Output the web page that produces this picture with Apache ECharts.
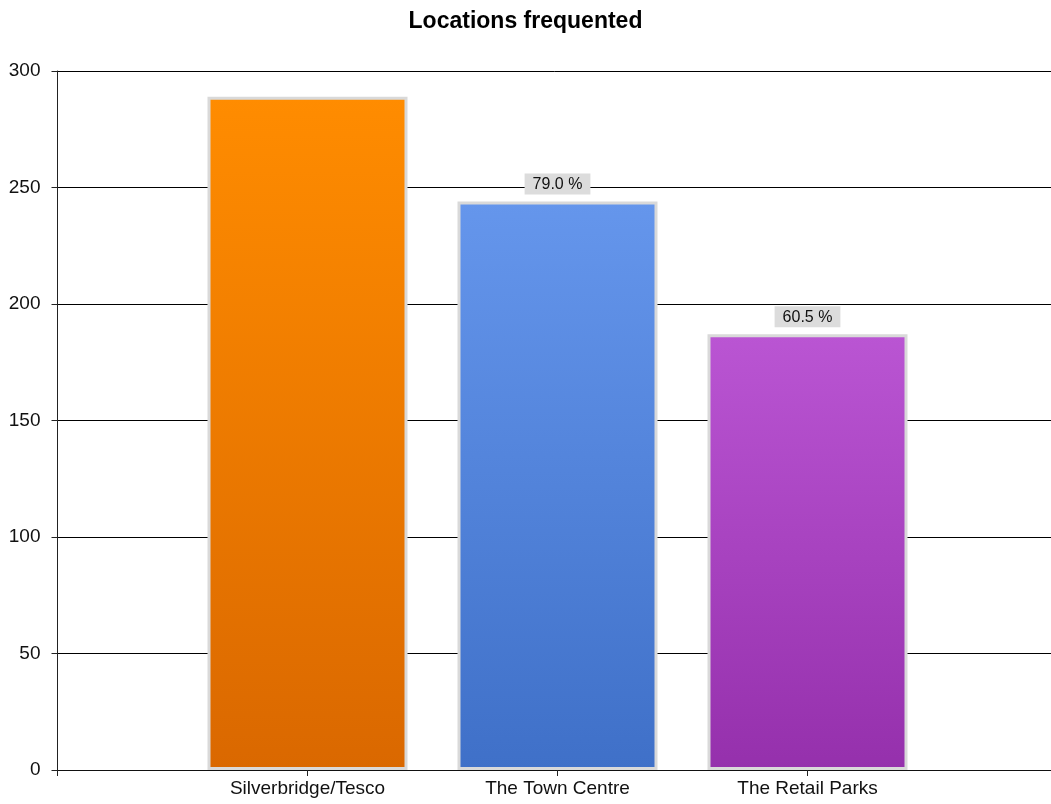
<!DOCTYPE html>
<html><head><meta charset="utf-8">
<script src="https://cdn.jsdelivr.net/npm/echarts@6/dist/echarts.min.js"></script>
<style>html,body{margin:0;padding:0;background:#fff}#c{width:1051px;height:804px}</style>
</head><body><div id="c"></div>
<script>
const categories = ["Silverbridge/Tesco", "The Town Centre", "The Retail Parks"];
const counts = [289, 244, 187];
const percentLabels = ["", "79.0 %", "60.5 %"];
const yTicks = [0, 50, 100, 150, 200, 250, 300];

const topColors = ["#FF8C00", "#6596EC", "#BA55D3"];
const bottomColors = ["#DA6800", "#3F70C8", "#9530AC"];

const chart = echarts.init(document.getElementById('c'), null, {renderer: 'canvas'});
const font = '"Liberation Sans", Arial, sans-serif';
chart.setOption({
  animation: false,
  backgroundColor: '#ffffff',
  title: {
    text: 'Locations frequented', left: 'center', top: 5,
    textStyle: {fontFamily: font, fontWeight: 'bold', fontSize: 23, color: '#000'}
  },
  grid: {left: 57.5, top: 71, width: 1000, height: 699, containLabel: false, outerBoundsMode: 'none'},
  xAxis: {
    type: 'value', min: 0, max: 4, interval: 1,
    axisLine: {show: true, lineStyle: {color: '#111', width: 1}},
    axisTick: {show: true, length: 6, lineStyle: {color: '#222'}},
    splitLine: {show: false},
    axisLabel: {
      fontFamily: font, fontSize: 19, color: '#111', margin: 9,
      formatter: v => (v >= 1 && v <= categories.length) ? categories[v - 1] : ''
    }
  },
  yAxis: {
    type: 'value', min: yTicks[0], max: yTicks[yTicks.length - 1], interval: 50,
    axisLine: {show: true, lineStyle: {color: '#222', width: 1}},
    axisTick: {show: true, length: 6, lineStyle: {color: '#222'}},
    splitLine: {show: true, lineStyle: {color: '#000', width: 1}},
    axisLabel: {fontFamily: font, fontSize: 19, color: '#111', margin: 17}
  },
  series: [{
    type: 'bar',
    barWidth: 200,
    data: counts.map((v, i) => ({
      value: [i + 1, v],
      itemStyle: {
        color: new echarts.graphic.LinearGradient(0, 0, 0, 1, [
          {offset: 0, color: topColors[i]}, {offset: 1, color: bottomColors[i]}
        ]),
        borderColor: '#D9D9D9', borderWidth: 3
      },
      label: {
        show: percentLabels[i] !== '',
        position: 'top', distance: 7,
        formatter: () => percentLabels[i],
        backgroundColor: '#DCDCDC', padding: [3, 8, 2, 8],
        fontFamily: font, fontSize: 16, color: '#111'
      }
    }))
  }]
});
</script></body></html>
